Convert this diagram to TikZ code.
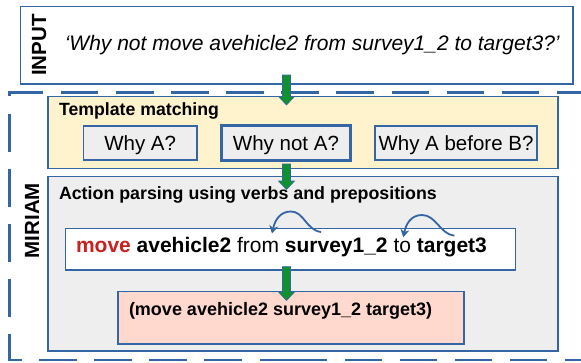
\documentclass[tikz,border=0pt]{standalone}
\usepackage{fontspec}
\setmainfont{Liberation Sans}
\usetikzlibrary{arrows.meta,calc}
\definecolor{lblue}{RGB}{52,101,164}
\definecolor{yfill}{RGB}{255,243,206}
\definecolor{gfill}{RGB}{238,238,238}
\definecolor{pfill}{RGB}{255,216,206}
\definecolor{mred}{RGB}{201,33,30}
\definecolor{agreen}{RGB}{16,145,48}
\newcommand\fsz[1]{\fontsize{#1}{#1}\selectfont}
\newcommand\garrow[2]{\filldraw[garrowst] let \p1=(#1), \p2=(#2) in
  (\x1-4pt,\y1) -- (\x1-4pt,\y2+8.5pt) -- (\x1-8pt,\y2+8.5pt) -- (\x2,\y2)
  -- (\x1+8pt,\y2+8.5pt) -- (\x1+4pt,\y2+8.5pt) -- (\x1+4pt,\y1) -- cycle;}
\begin{document}
\begin{tikzpicture}[x=1pt,y=-1pt,
  box/.style={draw=lblue, line width=1.2pt, inner sep=0pt, outer sep=0pt, anchor=north west},
  qbox/.style={box, fill=gfill, font=\fsz{20.5pt}, text height=15pt, text depth=0pt},
  lbl/.style={inner sep=0pt, outer sep=0pt, anchor=base west},
  vlbl/.style={inner sep=0pt, rotate=90, font=\fsz{20.5pt}\bfseries},
  frame/.style={draw=lblue, line width=2.3pt, dash pattern=on 37.5pt off 17.6pt},
  garrowst/.style={fill=agreen, draw=lblue, line width=0.6pt},
  carrow/.style={draw=lblue, line width=1.8pt, -{Stealth[width=9pt,length=8pt]}}]
\useasboundingbox (0,0) rectangle (581,362);

% dashed MIRIAM frame
\coordinate (fa) at (43.3,92.6);
\coordinate (fb) at (9.6,92.6);
\coordinate (fc) at (9.6,360);
\coordinate (fd) at (297,360);
\coordinate (fe) at (290,360);
\coordinate (ff) at (600,360);
\coordinate (fg) at (600,92.6);
\draw[frame] (fa) -- (fb) -- (fc) -- (fd);
\draw[frame, dash pattern=on 37.4pt off 17.6pt] (fe) -- (ff);
\draw[frame, dash phase=37.5pt] (fa) -- (fg);

% input box
\node[box, minimum width=552.5pt, minimum height=77.3pt] (in) at (20.5,6.7) {};
\node[vlbl] (inlbl) at (39.2,45) {INPUT};
\node[lbl, font=\fsz{21pt}\itshape] (q) at (64.8,50) {‘Why not move avehicle2 from survey1\_2 to target3?’};

% MIRIAM label
\node[vlbl] (mlbl) at (32,220.5) {MIRIAM};

% template matching
\node[box, fill=yfill, minimum width=510pt, minimum height=72pt] (tm) at (48,96.7) {};
\node[lbl, font=\fsz{17.7pt}\bfseries] (tmt) at (59,115) {Template matching};
\node[qbox, minimum width=113.7pt, minimum height=34pt] (wa) at (83.3,126) {Why A?};
\node[qbox, line width=3pt, minimum width=128.9pt, minimum height=35.7pt] (wn) at (221.5,125) {Why not A?};
\node[qbox, minimum width=162pt, minimum height=34pt] (wab) at (375,126) {Why A before B?};

% action parsing
\node[box, fill=gfill, minimum width=510pt, minimum height=174.3pt] (ap) at (48,176.7) {};
\node[lbl, font=\fsz{17.8pt}\bfseries] (apt) at (59,199.3) {Action parsing using verbs and prepositions};
\node[box, fill=white, minimum width=450pt, minimum height=41.7pt] (wb) at (65.5,228.3) {};
\node[lbl, font=\fsz{21pt}] (wbt) at (76,252.7) {\textbf{\textcolor{mred}{move}} \textbf{avehicle2} from \textbf{survey1\_2} to \textbf{target3}};
\node[box, fill=pfill, minimum width=346pt, minimum height=52.3pt] (pk) at (118,291.7) {};
\node[lbl, font=\fsz{18pt}\bfseries] (pkt) at (129,315) {(move avehicle2 survey1\_2 target3)};

% curved arrows
\coordinate (c1s) at (321,232);
\coordinate (c1p) at (291,211.5);
\coordinate (c1e) at (272,233.5);
\draw[carrow] (c1s) .. controls (306,230) and (304,211.5) .. (c1p) .. controls (280,211.5) and (275,220) .. (c1e);
\coordinate (c2s) at (454.3,235.7);
\coordinate (c2p) at (422,215);
\coordinate (c2e) at (403.3,237.3);
\draw[carrow] (c2s) .. controls (440,234) and (436,215) .. (c2p) .. controls (411,215) and (406,224) .. (c2e);

% green arrows
\coordinate (g1a) at (286.5,75);
\coordinate (g1b) at (286.5,105);
\coordinate (g2a) at (286.5,164);
\coordinate (g2b) at (286.5,189.5);
\coordinate (g3a) at (286.5,266.7);
\coordinate (g3b) at (286.5,300.5);
\garrow{g1a}{g1b}
\garrow{g2a}{g2b}
\garrow{g3a}{g3b}
\end{tikzpicture}
\end{document}
